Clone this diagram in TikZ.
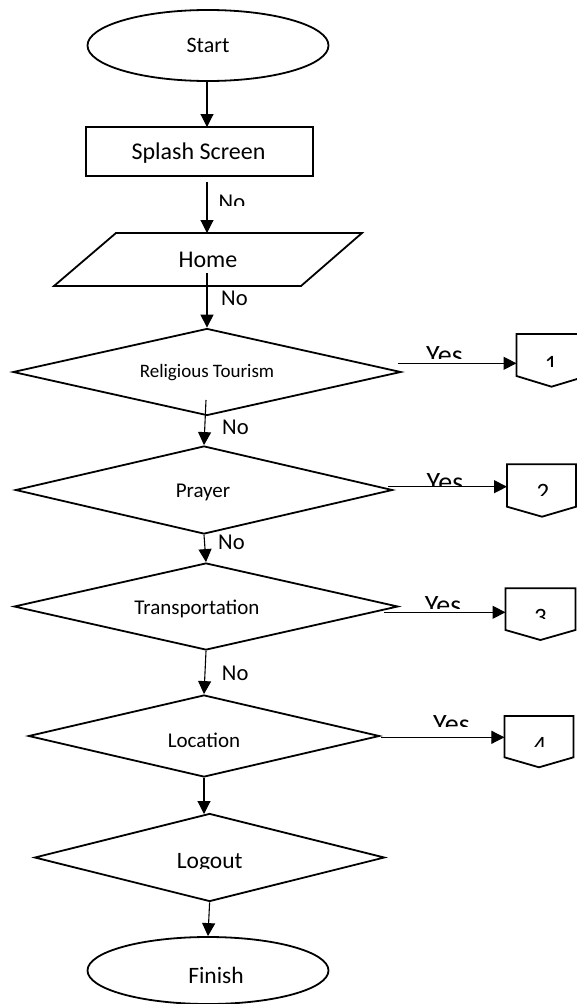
\documentclass[tikz,border=0pt]{standalone}
\usepackage{fontspec}
\setmainfont{Carlito}
\usetikzlibrary{arrows.meta,shapes.geometric}
\begin{document}
\begin{tikzpicture}[x=1pt,y=-1pt,
  shapeline/.style={draw=black,line width=1.8pt,line join=miter},
  flow/.style={draw=black,line width=1.1pt,-{Triangle[length=13pt,width=13pt]}},
  dec/.style={shapeline,diamond,inner sep=0pt},
  txt/.style={inner sep=0pt,font=\fontsize{#1}{#1}\selectfont},
  blbl/.style={inner sep=0pt,anchor=base west,font=\fontsize{#1}{#1}\selectfont},
  numlbl/.style={inner sep=0pt,anchor=base,font=\fontsize{25}{25}\selectfont}]
\clip (0,0) rectangle (577,1004);
\useasboundingbox (0,0) rectangle (577,1004);

% ---------- shapes ----------
\node[shapeline,ellipse,minimum width=241pt,minimum height=71pt,inner sep=0pt] (start) at (208,45.5) {};
\node[txt=22] (starttxt) at (208,45.2) {Start};

\node[shapeline,rectangle,minimum width=227pt,minimum height=49pt,inner sep=0pt] (splash) at (199.5,151.5) {};
\node[txt=24] (splashtxt) at (198.5,153) {Splash Screen};

\draw[shapeline] (116,233) coordinate (homeTL) -- (362,233) -- (301,286) -- (54,286) -- cycle;
\node[txt=24] (home) at (208,260) {Home};

\node[dec,aspect=4.46,minimum width=388pt,minimum height=87pt] (rt) at (207,372) {};
\node[txt=19] (rttxt) at (207,373) {Religious Tourism};

\node[dec,aspect=4.28,minimum width=377pt,minimum height=88pt] (pray) at (204,490) {};
\node[txt=21] (praytxt) at (203,492) {Prayer};

\node[dec,aspect=4.41,minimum width=384pt,minimum height=87pt] (trans) at (206,606.5) {};
\node[txt=21] (transtxt) at (197,609) {Transportation};

\node[dec,aspect=4.28,minimum width=351pt,minimum height=82pt] (loc) at (204,736) {};
\node[txt=21] (loctxt) at (204,740) {Location};

\node[dec,aspect=3.98,minimum width=350pt,minimum height=88pt] (logout) at (209.6,857.5) {};

\node[shapeline,ellipse,minimum width=241pt,minimum height=67pt,inner sep=0pt] (finish) at (208,970.5) {};
\node[txt=23.5] (finishtxt) at (216,975.5) {Finish};

% off-page connectors
\draw[shapeline] (516.5,334) coordinate (c1W) -- (587,334) -- (587,376) -- (551.5,386.7) -- (516.5,376) -- cycle;
\draw[shapeline] (507,464.3) coordinate (c2W) -- (576,464.3) -- (576,506.7) -- (542,516.7) -- (507,506.7) -- cycle;
\draw[shapeline] (505.5,588.3) coordinate (c3W) -- (575.4,588.3) -- (575.4,630) -- (540.4,640) -- (505.5,630) -- cycle;
\draw[shapeline] (504.4,716) coordinate (c4W) -- (573.5,716) -- (573.5,757.3) -- (539,767.3) -- (504.4,757.3) -- cycle;

% ---------- clipped labels ----------
\begin{scope}
  \clip (200,180) rectangle (260,205.5);
  \node[blbl=22.6] (no1) at (218.5,209) {No};
\end{scope}
\node[blbl=22.6] (no2) at (221,305.5) {No};
\node[blbl=22.6] (no3) at (222,434.5) {No};
\node[blbl=22.6] (no4) at (218,549.5) {No};
\node[blbl=22.6] (no5) at (221.7,680) {No};

\begin{scope}
  \clip (400,330) rectangle (500,358);
  \node[blbl=28] (yes1) at (426,364.7) {Yes};
\end{scope}
\begin{scope}
  \clip (400,460) rectangle (500,486);
  \node[blbl=28] (yes2) at (426.5,491.7) {Yes};
\end{scope}
\begin{scope}
  \clip (400,580) rectangle (500,608);
  \node[blbl=28] (yes3) at (424.6,614) {Yes};
\end{scope}
\begin{scope}
  \clip (400,700) rectangle (500,726.7);
  \node[blbl=28] (yes4) at (433,733) {Yes};
\end{scope}

\begin{scope}
  \clip (520,340) rectangle (577,366.7);
  \node[numlbl] (n1) at (551,372) {1};
\end{scope}
\begin{scope}
  \clip (510,470) rectangle (577,495);
  \node[numlbl] (n2) at (543,500.8) {2};
\end{scope}
\begin{scope}
  \clip (510,595) rectangle (577,618);
  \node[numlbl] (n3) at (540.5,625) {3};
\end{scope}
\begin{scope}
  \clip (510,725) rectangle (577,746.7);
  \node[numlbl] (n4) at (540,753.8) {4};
\end{scope}

\begin{scope}
  \clip (100,830) rectangle (320,868.5);
  \node[blbl=23.5,anchor=base] (logouttxt) at (209.7,868.3) {Logout};
\end{scope}

% ---------- connectors ----------
\coordinate (a1) at (207,81);
\draw[flow] (a1) -- (207,127);
\coordinate (a2) at (207,182);
\draw[flow] (a2) -- (207,233);
\coordinate (a3) at (207,273);
\draw[flow] (a3) -- (rt.north);
\coordinate (a4) at (206,400);
\draw[flow] (a4) -- (pray.north);
\draw[flow] (pray.south) -- (trans.north);
\draw[flow] (trans.south) -- (loc.north);
\draw[flow] (loc.south) -- (204,814);
\draw[flow] (logout.south) -- (finish.north);

\coordinate (y1) at (398,363.3);
\draw[flow] (y1) -- (c1W |- y1);
\coordinate (y2) at (388,486.7);
\draw[flow] (y2) -- (c2W |- y2);
\coordinate (y3) at (384,612.3);
\draw[flow] (y3) -- (c3W |- y3);
\coordinate (y4) at (381,737.3);
\draw[flow] (y4) -- (c4W |- y4);
\end{tikzpicture}
\end{document}
